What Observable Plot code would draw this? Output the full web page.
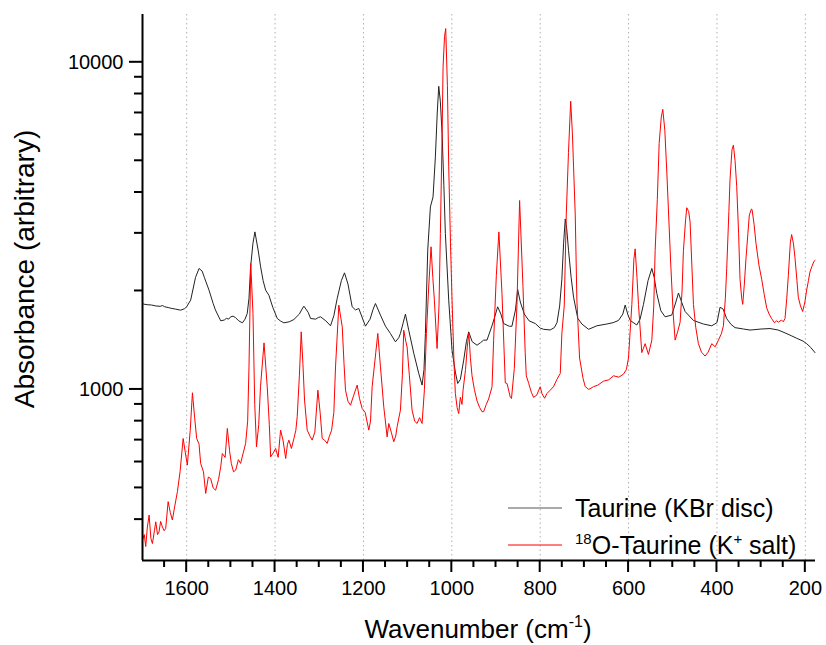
<!DOCTYPE html>
<html><head><meta charset="utf-8">
<script src="https://cdn.jsdelivr.net/npm/d3@7"></script>
<script src="https://cdn.jsdelivr.net/npm/@observablehq/plot@0.6"></script>
<style>
body{margin:0;background:#fff;}
svg{font-family:"Liberation Sans",Arial,sans-serif;}
</style>
</head><body><div id="chart"></div>
<script>
// Taurine (KBr disc) — wavenumber (cm-1) and absorbance
const taurineWn = [1700,1696.5,1688,1680,1670,1660,1655,1650,1642,1635,1625,1613.6,1605,1600,1591,1580,1572,1565,1560,1549.5,1540,1535,1523,1515,1510,1505,1500.6,1495,1490,1482,1474,1468,1463,1459,1455.4,1450,1445.6,1438,1432.7,1427,1421.4,1414,1405,1395,1388,1380,1368,1357.4,1345,1339,1334.8,1325,1319.7,1308,1302,1297,1285,1274.5,1267,1259.4,1250,1242.9,1235,1225.5,1218,1210.5,1200,1195.4,1185,1178,1172.8,1161.5,1150.2,1139,1127.6,1120,1116.3,1110,1105,1097.5,1086,1074.8,1067.3,1063,1059.8,1054.5,1048.5,1042.5,1037.2,1033,1029.6,1026,1022,1018,1014.6,1007,999.5,992,986.7,980.7,973.1,967,961.8,954,943,935,928,920.4,909.1,901,896.3,889,882.7,870,864,856,851,845,836,825,811,800,792.3,777.3,768,762,756,751,747,743.3,740,735.8,730,724.5,715,705.7,690.6,671.8,649.2,635,622.8,613,607.7,602,596.4,581.4,574,566.3,556,547.4,542,536.1,527,517.3,502.2,493,487.1,480,472.1,453.2,430.7,411.8,400,393,386,378,368,359.1,340,325.2,300,280,262,246,232,219.7,205,197,188,178.2];
const taurineAbs = [1830,1822,1815,1812,1800,1795,1805,1790,1780,1770,1760,1747,1765,1790,1875,2200,2343,2300,2200,2012,1830,1750,1621,1630,1650,1640,1667,1675,1660,1620,1598,1640,1706,1900,2370,2800,3031,2650,2370,2150,2012,1941,1780,1648,1620,1598,1610,1636,1700,1760,1797,1720,1648,1640,1660,1667,1620,1565,1680,1897,2150,2272,2100,1789,1750,1768,1620,1561,1640,1760,1831,1687,1561,1483,1398,1440,1483,1600,1699,1517,1288,1119,1031,1150,1483,2666,3614,3877,5140,7000,8445,7600,6056,4200,2996,1875,1318,1130,1043,1073,1229,1400,1500,1400,1365,1390,1415,1415,1565,1700,1789,1700,1590,1560,1560,1750,2021,1850,1700,1620,1590,1540,1527,1520,1545,1600,1800,2172,2800,3320,3100,2655,2200,1914,1650,1585,1527,1565,1585,1600,1625,1700,1812,1700,1625,1574,1640,1820,2150,2343,2200,1964,1740,1667,1688,1850,1972,1850,1731,1625,1585,1565,1600,1784,1760,1646,1580,1545,1530,1519,1530,1535,1520,1489,1460,1434,1405,1380,1345,1296];

// 18O-Taurine (K+ salt) — wavenumber (cm-1) and absorbance
const o18Wn = [1700,1696,1692.7,1689,1685,1681,1677.6,1673,1670,1666,1662.6,1659,1655,1651,1647.5,1642,1637,1632.4,1627,1621,1615,1608,1603,1598.5,1592,1587,1582,1577.4,1572,1568.4,1562,1557,1551,1545.8,1540,1534.5,1528,1523,1519.4,1513,1508,1503,1499,1494,1489,1483,1478,1472,1466.6,1462,1459,1455,1450,1446,1442,1437,1433,1425,1417.7,1413,1410,1404,1398.8,1393,1387.5,1382,1376,1372,1368.7,1363,1357.4,1353,1349.9,1345,1340.8,1337,1333.3,1327.3,1321,1316,1310,1303.1,1298,1293.3,1288,1282,1277,1272,1267,1263.2,1255.7,1248,1244,1240.6,1235,1229.3,1222,1214.2,1209,1203,1196,1187.9,1184,1180.3,1172,1167.5,1161.5,1154,1146.4,1142.7,1137,1131.4,1127,1123.8,1116.3,1112,1108.8,1104,1101.2,1096,1090,1084,1078.6,1073,1067.3,1062,1057.5,1052,1047,1043,1039.5,1033.4,1029,1025.9,1022,1019.8,1016.5,1013.8,1010,1007,1003,999.5,995,992,988,984.4,980.7,977,974.6,969,965,961.5,958,954.3,949,943,937,931.7,928,922,916.7,909,905.4,899.3,893.5,886.5,879,875,867.7,865,858.6,852.6,846.6,839,834,831.5,826,820,815,808,800,796,790,784.7,777.3,770,762.2,754.6,750.9,745.6,741,736,731,727,724.5,720.7,717,710.9,703,698.1,690,679.3,670,656.7,645,634,622,611.5,605,600.2,592.6,588,585.1,581,577.6,570.1,562.5,555,547.4,543,539.9,535,530.8,526,522.6,518,513.5,504.5,499,494.7,489,483.4,479,475.9,471,468.3,464,460.8,453.2,448,442,435,426.9,420,411.8,404,396.7,390,385.4,381,377.9,373,370.4,366,362.8,359,355.3,351,347.8,344,341.7,338,334.2,330,326.7,322,320.6,316,311.6,305,298.8,293,287.5,282,276.2,270,265,261.1,254,250,246,242,238.5,234,231,227,223.4,219,215.9,211,206.1,201,197,193,189.6,185,180.5,178];
const o18Abs = [346,360,331,380,413,350,338,370,394,360,367,395,380,370,376,454,420,399,440,487,560,708,640,587,750,977,820,708,680,594,560,481,540,534,500,492,530,580,637,620,760,650,594,560,567,610,594,640,684,800,1172,2426,1707,900,668,780,1019,1388,1019,780,622,640,660,620,751,700,615,680,700,660,708,750,825,1100,1500,1200,928,751,720,700,740,995,850,708,700,684,720,751,850,1172,1810,1554,1200,995,920,895,960,1031,940,875,850,751,800,1019,1300,1483,1173,885,716,787,740,692,720,769,865,1100,1517,1400,1349,1100,865,800,787,820,787,1000,1483,2100,2729,2200,1875,1334,1800,2996,6000,9683,12000,12680,8500,4790,2800,1875,1200,972,880,844,946,900,995,1150,1350,1489,1250,1101,1000,923,880,855,855,900,935,1019,1415,2227,3030,1964,1047,1043,946,938,1157,1820,3780,2065,1300,1101,1043,980,946,960,1019,971,940,972,995,1019,1073,1119,1489,1800,3416,5300,7600,6000,4790,3416,1875,1248,1080,1020,1000,1020,1030,1060,1070,1101,1090,1114,1150,1248,1820,2500,2690,2200,1820,1296,1380,1279,1415,1800,2655,3800,5650,6800,7180,6200,4620,2402,1700,1415,1500,1605,2000,2655,3300,3593,3500,3249,1820,1550,1380,1300,1265,1300,1380,1350,1415,1480,1565,1900,2343,3500,4393,5400,5580,5000,4177,3000,2172,1900,1820,2100,2526,3000,3416,3560,3550,3200,2790,2400,2172,1950,1776,1700,1646,1600,1620,1605,1630,1610,1646,1900,2227,2800,2975,2800,2526,2150,1914,1800,1731,1850,2014,2150,2284,2380,2463,2480];

const xMajorTicks = [1600,1400,1200,1000,800,600,400,200];
const xMinorTicks = [1650,1550,1500,1450,1350,1300,1250,1150,1100,1050,950,900,850,750,700,650,550,500,450,350,300,250];
const yMajorTicks = [1000,10000];
const yMinorTicks = [400,500,600,700,800,900,2000,3000,4000,5000,6000,7000,8000,9000];
const seriesNames = ["Taurine (KBr disc)", "O-Taurine (K", " salt)"];
const seriesColors = ["#222222", "#ff0000"];
const xStart = 1700, yBottom = 300;

const taurine = taurineWn.map((w, i) => ({wn: w, abs: taurineAbs[i]}));
const o18 = o18Wn.map((w, i) => ({wn: w, abs: o18Abs[i]}));

const plot = Plot.plot({
  width: 826, height: 645,
  marginLeft: 142, marginRight: 11, marginTop: 14, marginBottom: 85,
  style: {fontFamily: "Liberation Sans, Arial, sans-serif", fontSize: "20px", background: "#fff", color: "#000"},
  x: {domain: [1700, 177]},
  y: {type: "log", domain: [300, 14000]},
  marks: [
    Plot.gridX(xMajorTicks, {stroke: "#b0b0b0", strokeOpacity: 1, strokeDasharray: "1.5,3"}),
    Plot.line(taurine, {x: "wn", y: "abs", stroke: seriesColors[0], strokeWidth: 1}),
    Plot.line(o18, {x: "wn", y: "abs", stroke: seriesColors[1], strokeWidth: 1}),
    Plot.axisX(xMajorTicks, {tickSize: 0, tickPadding: 20, label: null, tickFormat: d => String(d)}),
    Plot.axisY(yMajorTicks, {tickSize: 0, tickPadding: 19, label: null, tickFormat: d => String(d)}),
    Plot.ruleX([xStart], {strokeWidth: 2}),
    Plot.ruleY([yBottom], {strokeWidth: 2})
  ]
});

const svg = d3.select(plot);
const sx = plot.scale("x"), sy = plot.scale("y");
const x0 = sx.apply(xStart), y0 = sy.apply(yBottom);
// tick marks through the plot's own scales
const tk = svg.append("g").attr("stroke", "#000").attr("stroke-width", 2).attr("fill", "none");
xMinorTicks.forEach(v => tk.append("path").attr("d", `M${sx.apply(v)},${y0}v7`));
xMajorTicks.forEach(v => tk.append("path").attr("d", `M${sx.apply(v)},${y0}v12`));
yMinorTicks.forEach(v => tk.append("path").attr("d", `M${x0},${sy.apply(v)}h-8`));
yMajorTicks.forEach(v => tk.append("path").attr("d", `M${x0},${sy.apply(v)}h-13`));

// x axis title
const xt = svg.append("text").attr("x", 478).attr("y", 638).attr("text-anchor", "middle")
  .attr("font-size", 26).attr("fill", "#000");
xt.append("tspan").text("Wavenumber (cm");
xt.append("tspan").attr("font-size", 16).attr("dy", -11).text("-1");
xt.append("tspan").attr("dy", 11).text(")");
// y axis title
svg.append("text").attr("transform", "rotate(-90)").attr("x", -269).attr("y", 34)
  .attr("text-anchor", "middle").attr("font-size", 28).attr("fill", "#000")
  .text("Absorbance (arbitrary)");
// legend
const lg = svg.append("g").attr("text-anchor", "start");
lg.append("line").attr("x1", 508).attr("x2", 562).attr("y1", 508).attr("y2", 508).attr("stroke", "#555").attr("stroke-width", 1.2);
lg.append("line").attr("x1", 508).attr("x2", 562).attr("y1", 545).attr("y2", 545).attr("stroke", seriesColors[1]).attr("stroke-width", 1.2);
lg.append("text").attr("x", 575).attr("y", 517).attr("text-anchor", "start").attr("font-size", 25).attr("fill", "#000").text(seriesNames[0]);
const t2 = lg.append("text").attr("x", 575).attr("y", 554).attr("text-anchor", "start").attr("font-size", 25).attr("fill", "#000");
t2.append("tspan").attr("font-size", 15).attr("dy", -10).text("18");
t2.append("tspan").attr("dy", 10).text(seriesNames[1]);
t2.append("tspan").attr("font-size", 15).attr("dy", -10).text("+");
t2.append("tspan").attr("dy", 10).text(seriesNames[2]);

document.getElementById("chart").appendChild(plot);
</script>
</body></html>
